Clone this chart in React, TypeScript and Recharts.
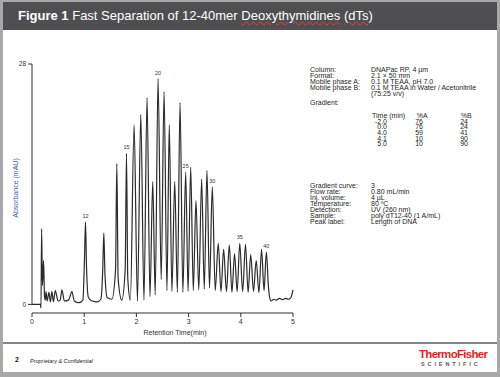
import React from 'react';
import { LineChart, Line, XAxis, YAxis, ReferenceLine, LabelList } from 'recharts';

// chromatogram trace (time in min, absorbance in mAU)
const times = [
  0, 0.16, 0.172, 0.184, 0.2, 0.222, 0.24, 0.255, 0.268, 0.29, 0.325, 0.352, 0.382, 0.41, 0.446,
  0.5, 0.54, 0.573, 0.62, 0.7, 0.765, 0.81, 0.9, 0.975, 1.005, 1.025, 1.045, 1.08, 1.15, 1.25,
  1.32, 1.355, 1.376, 1.398, 1.44, 1.53, 1.6, 1.625, 1.65, 1.72, 1.785, 1.81, 1.835, 1.885,
  1.956, 2.02, 2.084, 2.145, 2.204, 2.26, 2.313, 2.36, 2.415, 2.475, 2.53, 2.585, 2.63, 2.68,
  2.734, 2.785, 2.836, 2.89, 2.944, 2.99, 3.04, 3.09, 3.141, 3.195, 3.25, 3.3, 3.352, 3.4,
  3.454, 3.51, 3.568, 3.62, 3.671, 3.725, 3.78, 3.83, 3.88, 3.93, 3.98, 4.035, 4.09, 4.14,
  4.19, 4.243, 4.295, 4.347, 4.398, 4.445, 4.49, 4.53, 4.556, 4.58, 4.63, 4.68, 4.74, 4.8,
  4.86, 4.92, 4.96, 5.0,
];
const absorbance = [
  0, 0, -0.4, 8.8, 2.2, 5.1, 0.9, 0.5, 1.5, 0.4, 1.4, 0.3, 1.5, 0.3, 1.6,
  0.4, 0.5, 1.7, 0.4, 0.5, 1.5, 0.4, 0.2, 0.5, 5.2, 9.6, 4.2, 0.8, 0.4, 0.3,
  0.6, 4.0, 8.3, 3.5, 0.8, 0.6, 4.0, 16.4, 3.0, 0.5, 4.0, 17.6, 3.0, 0.5,
  20.9, 0.4, 22.1, 0.5, 24.1, 0.9, 14.3, 1.1, 26.3, 2.9, 24.8, 1.6, 20.9, 1.5,
  14.3, 1.4, 23.5, 1.4, 15.4, 1.5, 16.0, 1.6, 12.1, 1.7, 14.6, 1.8, 15.6, 1.9,
  13.7, 1.6, 7.1, 1.5, 6.4, 1.5, 6.9, 1.4, 5.9, 1.5, 7.1, 1.5, 7.0, 1.4,
  5.8, 1.5, 5.1, 1.4, 6.4, 1.6, 6.1, 2.0, 0.7, 0.4, 0.6, 0.5, 0.7, 0.55,
  0.7, 0.6, 0.8, 1.7,
];
const labelledPeakTimes = [1.025, 1.81, 2.415, 2.944, 3.454, 3.98, 4.49];
const peakLabels = ['12', '15', '20', '25', '30', '35', '40'];
const xTicks = [0, 1, 2, 3, 4, 5];
const yTicks = [0, 28];

const conditionLabels = ['Column:', 'Format:', 'Mobile phase A:', 'Mobile phase B:', '', 'Gradient:'];
const conditionValues = ['DNAPac RP, 4 µm', '2.1 × 50 mm', '0.1 M TEAA, pH 7.0', '0.1 M TEAA in Water / Acetonitrile', '(75:25 v/v)', ''];
const gradientTimes = ['-2.0', '0.0', '4.0', '4.1', '5.0'];
const gradientA = ['76', '76', '59', '10', '10'];
const gradientB = ['24', '24', '41', '90', '90'];
const runLabels = ['Gradient curve:', 'Flow rate:', 'Inj. volume:', 'Temperature:', 'Detection:', 'Sample:', 'Peak label:'];
const runValues = ['3', '0.80 mL/min', '4 µL', '80 ºC', 'UV (260 nm)', 'poly dT12-40 (1 A/mL)', 'Length of DNA'];

const data = times.map((t, i) => {
  const k = labelledPeakTimes.indexOf(t);
  return { t, v: absorbance[i], label: k >= 0 ? peakLabels[k] : undefined };
});

const FONT = '"Liberation Sans", Arial, sans-serif';
const squiggle = { textDecoration: 'underline wavy #e04040', textDecorationThickness: '0.5px' };

function Txt({ x, y, children, style }: { x: number; y: number; children: React.ReactNode; style?: React.CSSProperties }) {
  return (
    <div style={{ position: 'absolute', left: x, top: y - 4, fontSize: 7, lineHeight: '8px', color: '#262626', whiteSpace: 'nowrap', ...style }}>
      {children}
    </div>
  );
}

const PeakLabel = (props: any) => {
  const { x, y, value } = props;
  if (value === undefined || value === null || value === '') return null;
  return (
    <text x={x} y={y - 4} textAnchor="middle" fontSize={5.5} fill="#333" fontFamily={FONT}>
      {value}
    </text>
  );
};

export default function App() {
  const rowY = [70, 76, 82.3, 88.3, 94.3, 102.7];
  const gradY = [121.7, 127.3, 133, 138.7, 144.3];
  const runY = [186, 192, 198, 204, 210, 216, 222];
  return (
    <div style={{ position: 'absolute', left: 0, top: 0, width: 500, height: 377, background: '#a8a8a8', fontFamily: FONT, overflow: 'hidden' }}>
      <div style={{ position: 'absolute', left: 3, top: 2, width: 494, height: 370, background: '#fff' }} />
      <div style={{ position: 'absolute', left: 3, top: 2, width: 494, height: 28, background: '#4f4f51' }} />
      <div style={{ position: 'absolute', left: 18, top: 7, fontSize: 13, lineHeight: '18px', color: '#fff', whiteSpace: 'nowrap' }}>
        <b>Figure 1</b> Fast Separation of 12-40mer <span style={squiggle}>Deoxythymidines</span> <span style={squiggle}>(dTs)</span>
      </div>

      <div style={{ position: 'absolute', left: 0, top: 0 }}>
        <LineChart width={300} height={340} data={data} margin={{ top: 64, right: 7, bottom: 0, left: 0 }}>
          <XAxis
            dataKey="t"
            type="number"
            domain={[0, 5]}
            ticks={xTicks}
            height={27}
            tickSize={4}
            axisLine={{ stroke: '#333' }}
            tickLine={{ stroke: '#333' }}
            tick={{ fontSize: 7, fill: '#333', fontFamily: FONT }}
          />
          <YAxis
            type="number"
            domain={[-1, 28]}
            ticks={yTicks}
            width={32}
            tickSize={4}
            axisLine={false}
            tickLine={{ stroke: '#333' }}
            tick={{ fontSize: 6.5, fill: '#333', fontFamily: FONT }}
          />
          <ReferenceLine segment={[{ x: 0, y: 0 }, { x: 0, y: 28 }]} stroke="#333" />
          <Line type="monotone" dataKey="v" stroke="#2a2a2a" strokeWidth={1.2} dot={false} isAnimationActive={false}>
            <LabelList dataKey="label" content={PeakLabel} />
          </Line>
        </LineChart>
      </div>

      <div style={{ position: 'absolute', left: 15, top: 188, transform: 'translate(-50%, -50%) rotate(-90deg)', fontSize: 7, color: '#3a5ba0', whiteSpace: 'nowrap' }}>
        Absorbance (mAU)
      </div>
      <div style={{ position: 'absolute', left: 175, top: 332, transform: 'translate(-50%, -50%)', fontSize: 7, color: '#333', whiteSpace: 'nowrap' }}>
        Retention Time(min)
      </div>

      {conditionLabels.map((l, i) => (
        <React.Fragment key={'c' + i}>
          <Txt x={310} y={rowY[i]}>{l}</Txt>
          <Txt x={371} y={rowY[i]}>{conditionValues[i]}</Txt>
        </React.Fragment>
      ))}
      <Txt x={372} y={115.7}>Time (min)</Txt>
      <Txt x={416.7} y={115.7}>%A</Txt>
      <Txt x={460.7} y={115.7}>%B</Txt>
      {gradientTimes.map((g, i) => (
        <React.Fragment key={'g' + i}>
          <Txt x={356} y={gradY[i]} style={{ width: 31, textAlign: 'right' }}>{g}</Txt>
          <Txt x={403} y={gradY[i]} style={{ width: 20, textAlign: 'right' }}>{gradientA[i]}</Txt>
          <Txt x={448} y={gradY[i]} style={{ width: 20, textAlign: 'right' }}>{gradientB[i]}</Txt>
        </React.Fragment>
      ))}
      {runLabels.map((l, i) => (
        <React.Fragment key={'r' + i}>
          <Txt x={310} y={runY[i]}>{l}</Txt>
          <Txt x={371} y={runY[i]}>{runValues[i]}</Txt>
        </React.Fragment>
      ))}

      <div style={{ position: 'absolute', left: 3, top: 342, width: 494, height: 2, background: '#858585' }} />
      <div style={{ position: 'absolute', left: 15, top: 356, fontSize: 7, fontWeight: 'bold', color: '#222', lineHeight: '8px' }}>2</div>
      <div style={{ position: 'absolute', left: 30, top: 358, fontSize: 5.5, fontStyle: 'italic', color: '#222', lineHeight: '6px', whiteSpace: 'nowrap' }}>
        Proprietary &amp; Confidential
      </div>
      <div style={{ position: 'absolute', left: 419, top: 348, fontSize: 11.5, fontWeight: 'bold', color: '#e01f26', letterSpacing: -0.7, lineHeight: '13px', whiteSpace: 'nowrap' }}>
        ThermoFisher
      </div>
      <div style={{ position: 'absolute', left: 421, top: 361, fontSize: 5.5, fontWeight: 'bold', color: '#555', letterSpacing: 2.9, lineHeight: '6px', whiteSpace: 'nowrap' }}>
        SCIENTIFIC
      </div>
    </div>
  );
}
